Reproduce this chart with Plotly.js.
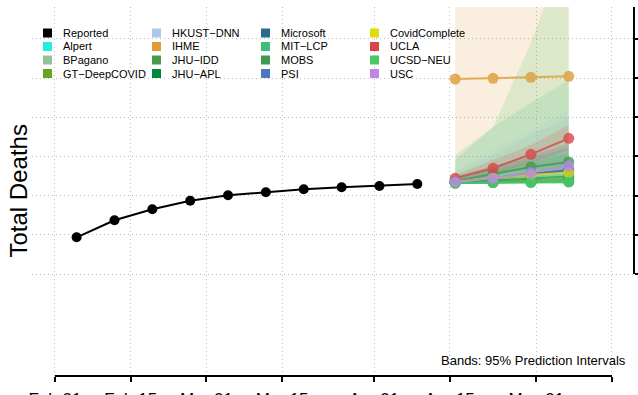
<!DOCTYPE html>
<html>
<head>
<meta charset="utf-8">
<script src="https://cdn.plot.ly/plotly-3.0.1.min.js"></script>
<style>html,body{margin:0;padding:0;background:#fff;}#chart{width:638px;height:395px;}</style>
</head>
<body>
<div id="chart"></div>
<script>
// ---------- data ----------
const reportedDates = ['2022-02-05','2022-02-12','2022-02-19','2022-02-26','2022-03-05','2022-03-12','2022-03-19','2022-03-26','2022-04-02','2022-04-09'];
const reportedDeaths = [24685, 26855, 28259, 29357, 30046, 30429, 30812, 31067, 31233, 31489];

const forecastDates = ['2022-04-16','2022-04-23','2022-04-30','2022-05-07'];

const modelNames = ['Alpert','BPagano','GT\u2212DeepCOVID','HKUST\u2212DNN','IHME','JHU\u2212IDD','JHU\u2212APL','Microsoft','MIT\u2212LCP','MOBS','PSI','CovidComplete','UCLA','UCSD\u2212NEU','USC'];
const modelColors = ['#22F0DA','#93C296','#66A61E','#AEC7E8','#DE9D35','#4A9A4A','#00873F','#2B6C8C','#3CBF7A','#3F9B4F','#5075C0','#DDDD10','#D94545','#4CC766','#BB88E8'];

const fcAlpert        = [31744, 31999, 32254, 32510];
const fcBPagano       = [31744, 32127, 32510, 32893];
const fcGTDeepCOVID   = [31744, 31871, 31999, 32127];
const fcHKUST         = [31871, 32254, 32637, 33020];
const fcIHME          = [44892, 44981, 45109, 45237];
const fcJHUIDD        = [31680, 31935, 32190, 32446];
const fcJHUAPL        = [31616, 31680, 31744, 31808];
const fcMicrosoft     = [31744, 32254, 32765, 33276];
const fcMITLCP        = [31616, 31744, 31744, 31871];
const fcMOBS          = [31871, 32765, 33659, 34297];
const fcPSI           = [31744, 32190, 32637, 33148];
const fcCovidComplete = [31744, 32254, 32637, 32957];
const fcUCLA          = [32216, 33493, 35280, 37322];
const fcUCSDNEU       = [31616, 31680, 31680, 31744];
const fcUSC           = [31782, 32216, 32931, 33825];
const forecasts = [fcAlpert, fcBPagano, fcGTDeepCOVID, fcHKUST, fcIHME, fcJHUIDD, fcJHUAPL, fcMicrosoft, fcMITLCP, fcMOBS, fcPSI, fcCovidComplete, fcUCLA, fcUCSDNEU, fcUSC];

// 95% prediction intervals (lower / upper) for models with visible bands
const bandIHMELo      = [32637, 33020, 33276, 33531];
const bandIHMEHi      = [60000, 64000, 68000, 72000];
const bandUCSDNEULo   = [31489, 31489, 31489, 31489];
const bandUCSDNEUHi   = [35190, 38765, 49487, 62635];
const bandMITLCPLo    = [31489, 31489, 31489, 31489];
const bandMITLCPHi    = [34552, 38765, 41828, 44764];
const bandHKUSTLo     = [31616, 31871, 32254, 32637];
const bandHKUSTHi     = [33276, 35829, 38382, 40935];
const bandBPaganoLo   = [31616, 31871, 32127, 32382];
const bandBPaganoHi   = [33020, 35190, 37744, 40041];
const bandMicrosoftLo = [31616, 31871, 32127, 32382];
const bandMicrosoftHi = [32510, 33786, 35190, 36595];
const bandJHUIDDLo    = [31489, 31616, 31744, 31871];
const bandJHUIDDHi    = [32382, 33276, 34297, 35318];
const bandMOBSLo      = [31616, 31999, 32510, 33020];
const bandMOBSHi      = [32254, 33531, 34807, 36084];
const bandUCLALo      = [31999, 32765, 34169, 35829];
const bandUCLAHi      = [32637, 34552, 36467, 39020];
const bands = [
  ['IHME', bandIHMELo, bandIHMEHi],
  ['UCSD\u2212NEU', bandUCSDNEULo, bandUCSDNEUHi],
  ['MIT\u2212LCP', bandMITLCPLo, bandMITLCPHi],
  ['HKUST\u2212DNN', bandHKUSTLo, bandHKUSTHi],
  ['BPagano', bandBPaganoLo, bandBPaganoHi],
  ['Microsoft', bandMicrosoftLo, bandMicrosoftHi],
  ['JHU\u2212IDD', bandJHUIDDLo, bandJHUIDDHi],
  ['MOBS', bandMOBSLo, bandMOBSHi],
  ['UCLA', bandUCLALo, bandUCLAHi]
];

const xTickVals = ['2022-02-01','2022-02-15','2022-03-01','2022-03-15','2022-04-01','2022-04-15','2022-05-01','2022-05-15'];
const xTickText = ['Feb 01','Feb 15','Mar 01','Mar 15','Apr 01','Apr 15','May 01','May 15'];
const yTickVals = [20000, 25000, 30000, 35000, 40000, 45000, 50000];

// ---------- helpers ----------
function rgba(hex, a){
  const n = parseInt(hex.slice(1),16);
  return 'rgba(' + ((n>>16)&255) + ',' + ((n>>8)&255) + ',' + (n&255) + ',' + a + ')';
}
const colorOf = {};
modelNames.forEach((m,i)=>colorOf[m]=modelColors[i]);

const traces = [];
bands.forEach(([name, lo, hi])=>{
  traces.push({
    x: forecastDates.concat(forecastDates.slice().reverse()),
    y: hi.concat(lo.slice().reverse()),
    type:'scatter', mode:'none', fill:'toself',
    fillcolor: rgba(colorOf[name], 0.16),
    showlegend:false, hoverinfo:'skip'
  });
});
modelNames.forEach((m,i)=>{
  traces.push({
    x: forecastDates, y: forecasts[i], type:'scatter', mode:'lines+markers',
    line:{color:modelColors[i], width:2}, marker:{color:modelColors[i], size:11},
    opacity:0.8, showlegend:false, name:m
  });
});
traces.push({
  x: reportedDates, y: reportedDeaths, type:'scatter', mode:'lines+markers',
  line:{color:'#000', width:2}, marker:{color:'#000', size:10},
  showlegend:false, name:'Reported'
});

// ---------- layout geometry ----------
const W = 638, H = 395;
const mL = 32, mR = 4, mT = 7, mB = 19;
const pw = W - mL - mR, ph = H - mT - mB;
const px2x = p => (p - mL)/pw;
const px2y = p => 1 - (p - mT)/ph;
const day = 86400000;
const t0 = Date.UTC(2022,1,1);
const xRange = [new Date(t0 - 4.25*day).toISOString(), new Date(t0 + 107.07*day).toISOString()];
const yRange = [6980, 54083];

// legend drawn as annotations + squares (column-major, 4 columns x 4 rows)
const legendOrder = ['Reported'].concat(modelNames);
const legendColors = ['#000000'].concat(modelColors);
const legendTextX = [62, 171, 280, 389];
const legendRowY = [33, 46.5, 60, 73.5];
const annotations = [];
const shapes = [];
legendOrder.forEach((m,i)=>{
  const c = Math.floor(i/4), r = i%4;
  const tx = legendTextX[c], cy = legendRowY[r];
  annotations.push({text:m, xref:'paper', yref:'paper', x:px2x(tx), y:px2y(cy), xanchor:'left', yanchor:'middle',
    showarrow:false, font:{size:11, color:'#000'}, borderpad:0});
  shapes.push({type:'rect', xref:'paper', yref:'paper', x0:px2x(tx-19), x1:px2x(tx-10), y0:px2y(cy+4.5), y1:px2y(cy-4.5),
    fillcolor:legendColors[i], line:{width:0}});
});

shapes.push({type:'line', xref:'x', yref:'paper', x0:xTickVals[0], x1:xTickVals[xTickVals.length-1], y0:0, y1:0, line:{color:'#000', width:2}});
shapes.push({type:'line', xref:'paper', yref:'y', x0:1, x1:1, y0:yTickVals[0], y1:yRange[1]+2000, line:{color:'#000', width:2}});

annotations.push({text:'Total Deaths', xref:'paper', yref:'paper', x:px2x(18), y:0.5, xanchor:'center', yanchor:'middle',
  textangle:-90, showarrow:false, font:{size:24, color:'#000'}});
annotations.push({text:'Bands: 95% Prediction Intervals', xref:'paper', yref:'paper', x:px2x(628), y:px2y(360),
  xanchor:'right', yanchor:'middle', showarrow:false, font:{size:13, color:'#000'}});

const gridStyle = {showgrid:true, gridcolor:'#bdbdbd', griddash:'1px,3px', gridwidth:1};

const layout = {
  width: W, height: H,
  margin:{l:mL, r:mR, t:mT, b:mB, pad:0},
  paper_bgcolor:'#fff', plot_bgcolor:'#fff',
  font:{family:'Liberation Sans, Arial, sans-serif', color:'#000'},
  showlegend:false,
  xaxis:Object.assign({
    type:'date', range:xRange, automargin:false,
    tickvals:xTickVals, ticktext:xTickText, tickfont:{size:17}, ticklabelstandoff:3,
    ticks:'outside', ticklen:5, tickwidth:2, tickcolor:'#000',
    showline:false, zeroline:false
  }, gridStyle),
  yaxis:Object.assign({
    range:yRange, side:'right', automargin:false,
    tickvals:yTickVals, showticklabels:false,
    ticks:'outside', ticklen:5, tickwidth:2, tickcolor:'#000',
    showline:false, zeroline:false
  }, gridStyle),
  shapes: shapes,
  annotations: annotations
};

Plotly.newPlot('chart', traces, layout, {staticPlot:true, displayModeBar:false});
</script>
</body>
</html>
